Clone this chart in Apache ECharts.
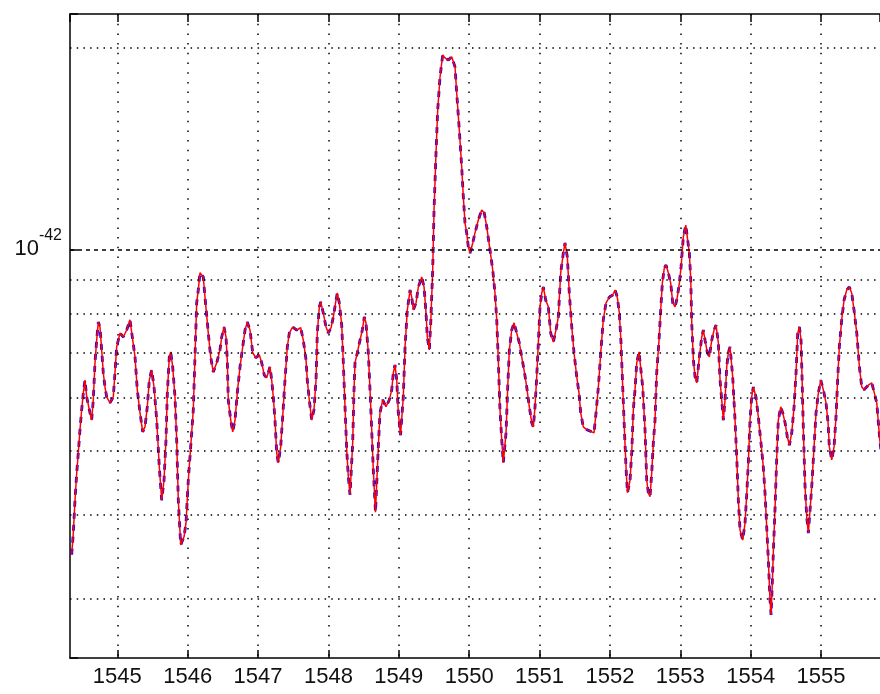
<!DOCTYPE html>
<html>
<head>
<meta charset="utf-8">
<script src="https://cdn.jsdelivr.net/npm/echarts@6/dist/echarts.min.js"></script>
<style>html,body{margin:0;padding:0;background:#fff}#chart{width:880px;height:694px}</style>
</head>
<body>
<div id="chart"></div>
<script>
// Wavelength (nm)
const wavelengths = [
1544.352,1544.375,1544.399,1544.423,1544.446,1544.470,1544.494,1544.517,1544.541,1544.565,
1544.612,1544.636,1544.659,1544.683,1544.707,1544.730,1544.754,1544.778,1544.801,1544.825,
1544.849,1544.896,1544.920,1544.943,1544.967,1544.991,1545.038,1545.085,1545.134,1545.180,
1545.205,1545.252,1545.284,1545.323,1545.361,1545.394,1545.426,1545.455,1545.489,1545.522,
1545.560,1545.597,1545.631,1545.664,1545.692,1545.711,1545.739,1545.759,1545.787,1545.820,
1545.844,1545.867,1545.901,1545.948,1545.976,1546.009,1546.043,1546.080,1546.104,1546.128,
1546.151,1546.175,1546.222,1546.246,1546.270,1546.293,1546.327,1546.364,1546.413,1546.459,
1546.484,1546.516,1546.545,1546.563,1546.577,1546.612,1546.640,1546.673,1546.705,1546.744,
1546.782,1546.815,1546.847,1546.886,1546.924,1546.971,1547.018,1547.052,1547.089,1547.123,
1547.170,1547.194,1547.217,1547.241,1547.265,1547.288,1547.322,1547.350,1547.383,1547.416,
1547.444,1547.493,1547.549,1547.606,1547.643,1547.682,1547.700,1547.728,1547.763,1547.795,
1547.824,1547.842,1547.871,1547.891,1547.927,1547.966,1547.998,1548.037,1548.070,1548.104,
1548.126,1548.155,1548.189,1548.212,1548.236,1548.260,1548.283,1548.307,1548.345,1548.364,
1548.378,1548.411,1548.449,1548.482,1548.510,1548.534,1548.567,1548.591,1548.615,1548.638,
1548.669,1548.709,1548.733,1548.772,1548.818,1548.865,1548.900,1548.922,1548.946,1548.971,
1548.993,1549.025,1549.064,1549.089,1549.121,1549.160,1549.184,1549.206,1549.245,1549.278,
1549.326,1549.359,1549.387,1549.405,1549.434,1549.454,1549.482,1549.501,1549.529,1549.553,
1549.586,1549.624,1549.657,1549.704,1549.752,1549.799,1549.823,1549.860,1549.894,1549.917,
1549.941,1549.965,1549.988,1550.012,1550.051,1550.083,1550.130,1550.178,1550.215,1550.250,
1550.296,1550.335,1550.367,1550.392,1550.414,1550.438,1550.463,1550.485,1550.524,1550.548,
1550.571,1550.605,1550.638,1550.676,1550.713,1550.747,1550.780,1550.818,1550.855,1550.889,
1550.912,1550.936,1550.960,1550.983,1551.007,1551.031,1551.054,1551.088,1551.125,1551.159,
1551.196,1551.234,1551.267,1551.301,1551.338,1551.362,1551.395,1551.423,1551.458,1551.490,
1551.529,1551.561,1551.585,1551.622,1551.671,1551.742,1551.774,1551.803,1551.836,1551.870,
1551.906,1551.945,1551.992,1552.040,1552.073,1552.105,1552.134,1552.158,1552.182,1552.208,
1552.233,1552.250,1552.286,1552.310,1552.333,1552.357,1552.381,1552.414,1552.438,1552.466,
1552.499,1552.523,1552.546,1552.570,1552.594,1552.617,1552.641,1552.665,1552.698,1552.722,
1552.745,1552.773,1552.798,1552.830,1552.864,1552.893,1552.926,1552.958,1552.987,1553.011,
1553.043,1553.078,1553.106,1553.129,1553.149,1553.163,1553.186,1553.210,1553.234,1553.271,
1553.305,1553.328,1553.352,1553.385,1553.413,1553.447,1553.480,1553.508,1553.541,1553.565,
1553.589,1553.612,1553.636,1553.660,1553.683,1553.707,1553.745,1553.778,1553.802,1553.825,
1553.849,1553.887,1553.920,1553.944,1553.967,1553.991,1554.015,1554.038,1554.076,1554.109,
1554.143,1554.180,1554.204,1554.228,1554.251,1554.275,1554.290,1554.304,1554.322,1554.347,
1554.371,1554.393,1554.428,1554.456,1554.489,1554.521,1554.550,1554.584,1554.617,1554.645,
1554.669,1554.692,1554.716,1554.730,1554.749,1554.773,1554.797,1554.820,1554.844,1554.868,
1554.901,1554.929,1554.962,1554.996,1555.033,1555.071,1555.100,1555.118,1555.152,1555.185,
1555.213,1555.238,1555.260,1555.294,1555.327,1555.365,1555.402,1555.436,1555.469,1555.508,
1555.545,1555.579,1555.611,1555.672,1555.721,1555.758,1555.792,1555.815,1555.839,1555.868
];

// Red trace (solid), in units of 1e-42
const redPower = [
0.349,0.376,0.421,0.462,0.496,0.537,0.575,0.609,0.637,0.601,
0.569,0.555,0.595,0.676,0.731,0.778,0.765,0.707,0.653,0.622,
0.601,0.589,0.585,0.601,0.653,0.714,0.749,0.739,0.757,0.784,
0.784,0.690,0.616,0.569,0.533,0.542,0.581,0.637,0.660,0.622,
0.555,0.472,0.421,0.451,0.518,0.609,0.690,0.702,0.667,0.601,
0.518,0.421,0.361,0.371,0.389,0.451,0.506,0.575,0.690,0.831,
0.869,0.922,0.909,0.848,0.797,0.749,0.690,0.655,0.676,0.707,
0.739,0.765,0.739,0.683,0.595,0.555,0.533,0.555,0.609,0.667,
0.714,0.757,0.778,0.757,0.700,0.688,0.695,0.676,0.648,0.642,
0.667,0.637,0.601,0.555,0.496,0.479,0.506,0.561,0.637,0.714,
0.749,0.765,0.757,0.763,0.731,0.683,0.637,0.595,0.555,0.575,
0.637,0.749,0.820,0.834,0.803,0.765,0.749,0.763,0.792,0.834,
0.860,0.831,0.770,0.676,0.581,0.501,0.456,0.429,0.513,0.616,
0.676,0.700,0.731,0.757,0.792,0.776,0.700,0.616,0.537,0.467,
0.404,0.506,0.569,0.595,0.581,0.595,0.616,0.653,0.671,0.637,
0.569,0.527,0.601,0.714,0.811,0.869,0.848,0.811,0.831,0.878,
0.909,0.878,0.803,0.739,0.707,0.776,0.931,1.145,1.394,1.616,
1.811,1.954,1.934,1.920,1.941,1.875,1.714,1.509,1.328,1.198,
1.095,1.058,1.008,0.987,1.022,1.058,1.106,1.145,1.133,1.080,
0.998,0.931,0.860,0.784,0.683,0.575,0.518,0.479,0.531,0.622,
0.707,0.757,0.776,0.749,0.724,0.690,0.660,0.622,0.581,0.550,
0.542,0.581,0.644,0.724,0.820,0.860,0.878,0.839,0.820,0.749,
0.726,0.757,0.792,0.922,0.987,1.022,0.974,0.860,0.765,0.700,
0.644,0.609,0.569,0.542,0.537,0.533,0.531,0.569,0.622,0.700,
0.784,0.831,0.848,0.854,0.869,0.848,0.803,0.724,0.622,0.531,
0.462,0.432,0.451,0.496,0.575,0.616,0.676,0.702,0.700,0.622,
0.537,0.451,0.432,0.426,0.462,0.513,0.555,0.653,0.731,0.811,
0.890,0.938,0.947,0.922,0.890,0.831,0.820,0.848,0.890,0.941,
1.043,1.087,1.080,0.987,0.900,0.776,0.683,0.644,0.631,0.690,
0.739,0.757,0.731,0.700,0.690,0.731,0.757,0.770,0.724,0.637,
0.595,0.555,0.595,0.667,0.700,0.714,0.644,0.555,0.489,0.421,
0.380,0.367,0.389,0.429,0.479,0.555,0.601,0.622,0.601,0.561,
0.518,0.472,0.432,0.384,0.343,0.2985,0.2835,0.309,0.351,0.411,
0.489,0.555,0.581,0.569,0.550,0.524,0.509,0.531,0.581,0.653,
0.749,0.765,0.731,0.644,0.537,0.441,0.397,0.376,0.407,0.441,
0.506,0.569,0.609,0.637,0.616,0.589,0.550,0.506,0.484,0.506,
0.561,0.644,0.714,0.784,0.839,0.869,0.878,0.860,0.811,0.749,
0.667,0.622,0.616,0.626,0.631,0.609,0.589,0.550,0.513,0.484
];

// Blue trace (dashed), in units of 1e-42 - coincides with the red one
const bluePower = [
0.349,0.376,0.421,0.462,0.496,0.537,0.575,0.609,0.637,0.601,
0.569,0.555,0.595,0.676,0.731,0.778,0.765,0.707,0.653,0.622,
0.601,0.589,0.585,0.601,0.653,0.714,0.749,0.739,0.757,0.784,
0.784,0.690,0.616,0.569,0.533,0.542,0.581,0.637,0.660,0.622,
0.555,0.472,0.421,0.451,0.518,0.609,0.690,0.702,0.667,0.601,
0.518,0.421,0.361,0.371,0.389,0.451,0.506,0.575,0.690,0.831,
0.869,0.922,0.909,0.848,0.797,0.749,0.690,0.655,0.676,0.707,
0.739,0.765,0.739,0.683,0.595,0.555,0.533,0.555,0.609,0.667,
0.714,0.757,0.778,0.757,0.700,0.688,0.695,0.676,0.648,0.642,
0.667,0.637,0.601,0.555,0.496,0.479,0.506,0.561,0.637,0.714,
0.749,0.765,0.757,0.763,0.731,0.683,0.637,0.595,0.555,0.575,
0.637,0.749,0.820,0.834,0.803,0.765,0.749,0.763,0.792,0.834,
0.860,0.831,0.770,0.676,0.581,0.501,0.456,0.429,0.513,0.616,
0.676,0.700,0.731,0.757,0.792,0.776,0.700,0.616,0.537,0.467,
0.404,0.506,0.569,0.595,0.581,0.595,0.616,0.653,0.671,0.637,
0.569,0.527,0.601,0.714,0.811,0.869,0.848,0.811,0.831,0.878,
0.909,0.878,0.803,0.739,0.707,0.776,0.931,1.145,1.394,1.616,
1.811,1.954,1.934,1.920,1.941,1.875,1.714,1.509,1.328,1.198,
1.095,1.058,1.008,0.987,1.022,1.058,1.106,1.145,1.133,1.080,
0.998,0.931,0.860,0.784,0.683,0.575,0.518,0.479,0.531,0.622,
0.707,0.757,0.776,0.749,0.724,0.690,0.660,0.622,0.581,0.550,
0.542,0.581,0.644,0.724,0.820,0.860,0.878,0.839,0.820,0.749,
0.726,0.757,0.792,0.922,0.987,1.022,0.974,0.860,0.765,0.700,
0.644,0.609,0.569,0.542,0.537,0.533,0.531,0.569,0.622,0.700,
0.784,0.831,0.848,0.854,0.869,0.848,0.803,0.724,0.622,0.531,
0.462,0.432,0.451,0.496,0.575,0.616,0.676,0.702,0.700,0.622,
0.537,0.451,0.432,0.426,0.462,0.513,0.555,0.653,0.731,0.811,
0.890,0.938,0.947,0.922,0.890,0.831,0.820,0.848,0.890,0.941,
1.043,1.087,1.080,0.987,0.900,0.776,0.683,0.644,0.631,0.690,
0.739,0.757,0.731,0.700,0.690,0.731,0.757,0.770,0.724,0.637,
0.595,0.555,0.595,0.667,0.700,0.714,0.644,0.555,0.489,0.421,
0.380,0.367,0.389,0.429,0.479,0.555,0.601,0.622,0.601,0.561,
0.518,0.472,0.432,0.384,0.343,0.2985,0.2835,0.309,0.351,0.411,
0.489,0.555,0.581,0.569,0.550,0.524,0.509,0.531,0.581,0.653,
0.749,0.765,0.731,0.644,0.537,0.441,0.397,0.376,0.407,0.441,
0.506,0.569,0.609,0.637,0.616,0.589,0.550,0.506,0.484,0.506,
0.561,0.644,0.714,0.784,0.839,0.869,0.878,0.860,0.811,0.749,
0.667,0.622,0.616,0.626,0.631,0.609,0.589,0.550,0.513,0.484
];

// Axis ranges and gridlines (units of 1e-42 on the log axis)
const xRange = [1544.328, 1555.838];
const yRange = [0.2444, 2.25];
const minorGridValues = [0.3, 0.4, 0.5, 0.6, 0.7, 0.8, 0.9, 2];
const decadeGridValues = [1];

const FONT = '"Liberation Sans", Arial, sans-serif';
const pairs = (xs, ys) => xs.map((x, i) => [x, ys[i]]);

const chart = echarts.init(document.getElementById('chart'), null, {renderer: 'canvas'});

const gridMarks = minorGridValues.map(v => ({yAxis: v, lineStyle: {type: [1.5, 5.2]}}))
  .concat(decadeGridValues.map(v => ({yAxis: v, lineStyle: {type: [4, 4]}})));

chart.setOption({
  animation: false,
  backgroundColor: '#ffffff',
  grid: {left: 70, right: 0, top: 14, bottom: 36, containLabel: false},
  xAxis: [{
    type: 'value', min: xRange[0], max: xRange[1], splitNumber: 11, position: 'bottom',
    axisLine: {show: true, onZero: false, lineStyle: {color: '#000', width: 1.5}},
    axisTick: {show: true, inside: true, length: 8, lineStyle: {color: '#000', width: 1.5}},
    axisLabel: {
      show: true, margin: 8, fontSize: 22, fontFamily: FONT, color: '#111',
      showMinLabel: false, showMaxLabel: false,
      formatter: v => (Math.abs(v - Math.round(v)) < 1e-6 ? String(Math.round(v)) : '')
    },
    splitLine: {show: true, showMinLine: false, showMaxLine: false,
      lineStyle: {color: '#000', width: 1.5, type: [1.5, 8.2]}}
  }, {
    type: 'value', min: xRange[0], max: xRange[1], splitNumber: 11, position: 'top',
    axisLine: {show: true, onZero: false, lineStyle: {color: '#000', width: 1.5}},
    axisTick: {show: true, inside: true, length: 8, lineStyle: {color: '#000', width: 1.5}},
    axisLabel: {show: false},
    splitLine: {show: false}
  }],
  yAxis: {
    type: 'log', logBase: 10, min: yRange[0], max: yRange[1],
    axisLine: {show: true, lineStyle: {color: '#000', width: 1.5}},
    axisTick: {show: true, inside: true, length: 8, lineStyle: {color: '#000', width: 1.5}},
    axisLabel: {
      show: true, margin: 8,
      formatter: v => (Math.abs(v - 1) < 1e-6 ? '{a|10}{b|-42}' : ''),
      rich: {
        a: {fontSize: 22, lineHeight: 44, fontFamily: FONT, color: '#111'},
        b: {fontSize: 16, lineHeight: 18, fontFamily: FONT, color: '#111', verticalAlign: 'top'}
      }
    },
    splitLine: {show: false}
  },
  series: [{
    name: 'blue', type: 'line', xAxisIndex: 0, showSymbol: false, symbol: 'none', z: 2,
    data: pairs(wavelengths, bluePower),
    lineStyle: {color: '#0000ff', width: 2.8, type: [6, 6]},
    markLine: {
      silent: true, symbol: ['none', 'none'], label: {show: false},
      lineStyle: {color: '#000', width: 1.5},
      data: gridMarks
    }
  }, {
    name: 'red', type: 'line', xAxisIndex: 0, showSymbol: false, symbol: 'none', z: 3,
    data: pairs(wavelengths, redPower),
    lineStyle: {color: '#ff0000', width: 1.5}
  }]
});
</script>
</body>
</html>
